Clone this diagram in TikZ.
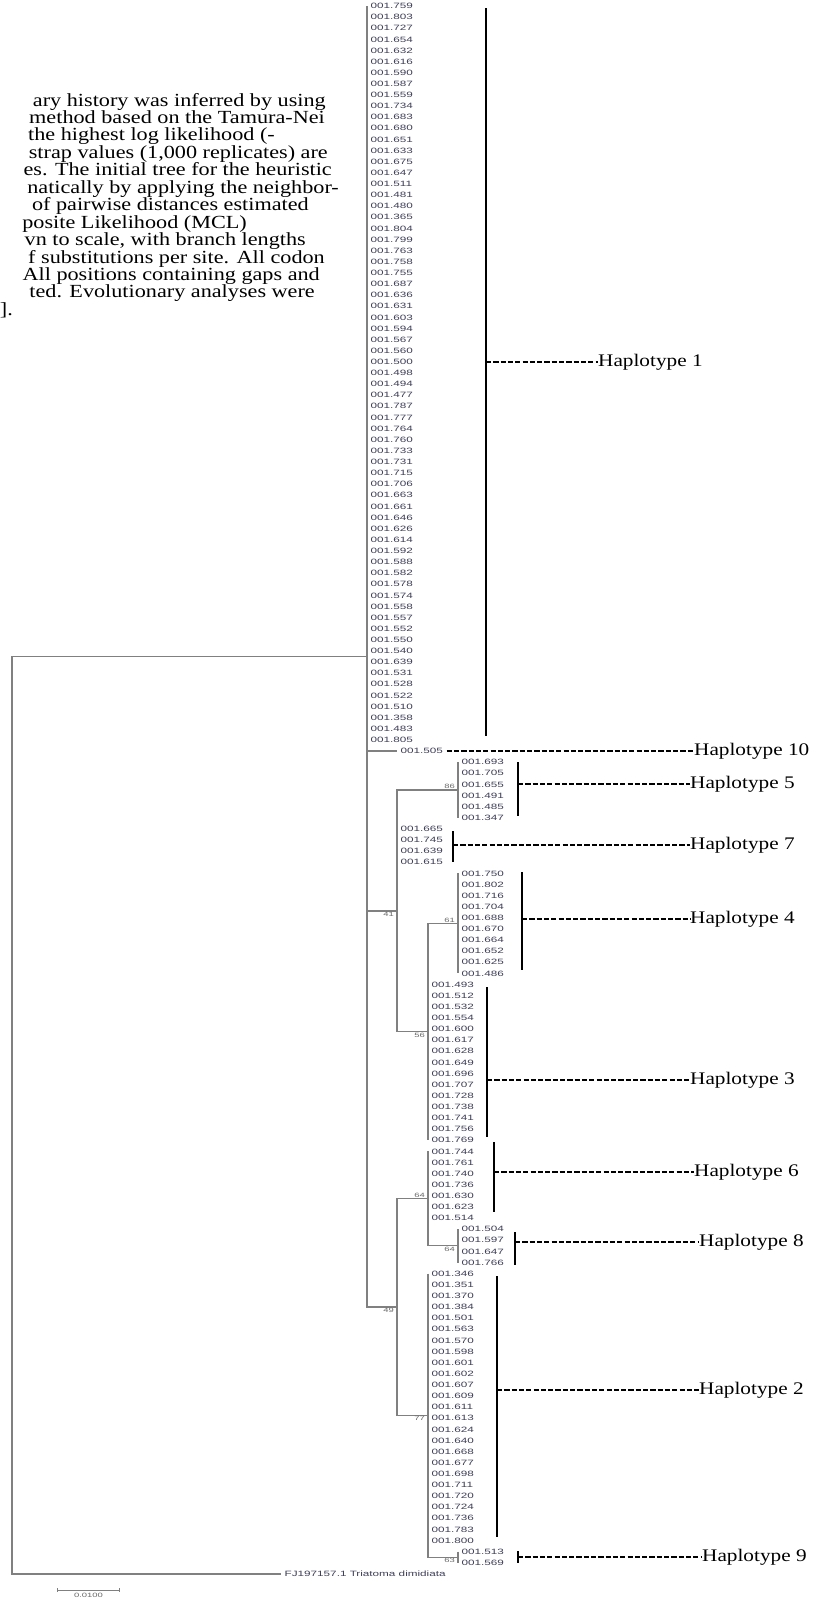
\documentclass[tikz,border=0pt]{standalone}
\usepackage{fontspec}
\setmainfont{Liberation Serif}
\newfontfamily\capfont[FakeStretch=1.2]{Liberation Serif}
\newfontfamily\leaffont[FakeStretch=1.52]{Liberation Sans}
\usetikzlibrary{arrows.meta}
\definecolor{treegray}{RGB}{128,128,128}
\definecolor{leafink}{RGB}{62,62,88}
\definecolor{bootgray}{RGB}{105,105,105}

\begin{document}
\begin{tikzpicture}[x=1pt, y=-1pt, branch/.style={draw=treegray, line width=1.2pt}, leaf/.style={anchor=west, inner xsep=3.5pt, inner ysep=0pt, text=leafink, font=\leaffont\fontsize{7.7}{8}\selectfont}, boot/.style={inner xsep=3pt, inner ysep=1pt, text=bootgray, font=\leaffont\fontsize{6.2}{7}\selectfont}, hap/.style={anchor=west, inner sep=0pt, font=\capfont\fontsize{17.7}{19}\selectfont}, captext/.style={anchor=base east, inner sep=0pt, font=\capfont\fontsize{18.5}{20}\selectfont}, hapbar/.style={line width=1.4pt}, guide/.style={line width=1.2pt, dash pattern=on 5.2pt off 2.1pt}]
\useasboundingbox (0,0) rectangle (812,1599);
% caption, cut off at the left edge
\node[captext] (cap1) at (326,106) {ary history was inferred by using};
\node[captext] (cap2) at (325,123.45) {method based on the Tamura-Nei};
\node[captext] (cap3) at (275,140.9) {the highest log likelihood (-};
\node[captext] (cap4) at (328,158.35) {strap values (1,000 replicates) are};
\node[captext] (cap5) at (332,175.8) {es. The initial tree for the heuristic};
\node[captext] (cap6) at (339,193.25) {natically by applying the neighbor-};
\node[captext] (cap7) at (309,210.7) {of pairwise distances estimated};
\node[captext] (cap8) at (247,228.15) {posite Likelihood (MCL)};
\node[captext] (cap9) at (306,245.6) {vn to scale, with branch lengths};
\node[captext] (cap10) at (325,263.05) {f substitutions per site. All codon};
\node[captext] (cap11) at (320,280.5) {All positions containing gaps and};
\node[captext] (cap12) at (315,297.95) {ted. Evolutionary analyses were};
\node[captext] (cap13) at (13,315.4) {].};
% leaves
\foreach \v [count=\k from 0] in {759,803,727,654,632,616,590,587,559,734,683,680,651,633,675,647,511,481,480,365,804,799,763,758,755,687,636,631,603,594,567,560,500,498,494,477,787,777,764,760,733,731,715,706,663,661,646,626,614,592,588,582,578,574,558,557,552,550,540,639,531,528,522,510,358,483,805} \node[leaf] (l\k) at (367,{6+11.12*\k}) {001.\v};
\node[leaf] (l67) at (397,{6+11.12*67}) {001.505};
\foreach \v [count=\k from 68] in {693,705,655,491,485,347} \node[leaf] (l\k) at (458,{6+11.12*\k}) {001.\v};
\foreach \v [count=\k from 74] in {665,745,639,615} \node[leaf] (l\k) at (397,{6+11.12*\k}) {001.\v};
\foreach \v [count=\k from 78] in {750,802,716,704,688,670,664,652,625,486} \node[leaf] (l\k) at (458,{6+11.12*\k}) {001.\v};
\foreach \v [count=\k from 88] in {493,512,532,554,600,617,628,649,696,707,728,738,741,756,769,744,761,740,736,630,623,514} \node[leaf] (l\k) at (428,{6+11.12*\k}) {001.\v};
\foreach \v [count=\k from 110] in {504,597,647,766} \node[leaf] (l\k) at (458,{6+11.12*\k}) {001.\v};
\foreach \v [count=\k from 114] in {346,351,370,384,501,563,570,598,601,602,607,609,611,613,624,640,668,677,698,711,720,724,736,783,800} \node[leaf] (l\k) at (428,{6+11.12*\k}) {001.\v};
\foreach \v [count=\k from 139] in {513,569} \node[leaf] (l\k) at (458,{6+11.12*\k}) {001.\v};
\node[leaf] (fj) at (281,{6+11.12*141}) {FJ197157.1 Triatoma dimidiata};
% internal nodes
\coordinate (root) at (12,1115.22);
\coordinate (ing) at (367,656.52);
\coordinate (b41) at (397,910.89);
\coordinate (b86) at (458,789.96);
\coordinate (b56) at (428,1031.82);
\coordinate (b61) at (458,923.4);
\coordinate (b49) at (397,1307.04);
\coordinate (b64u) at (428,1198.62);
\coordinate (b64l) at (458,1245.88);
\coordinate (b77) at (428,1415.46);
\coordinate (b63) at (458,1557.24);
% branches
\draw[branch] (ing) -| (root) |- (fj.west);
\draw[branch] (l0.west) |- (b49);
\draw[branch] (ing |- l67) -- (l67.west);
\draw[branch] (ing |- b41) -- (b41);
\draw[branch] (b86) -| (b41) |- (b56);
\draw[branch] (l68.west) -- (l73.west);
\draw[branch] (b61) -| (l102.west);
\draw[branch] (l78.west) -- (l87.west);
\draw[branch] (b64u) -| (b49) |- (b77);
\draw[branch] (l103.west) |- (b64l);
\draw[branch] (l110.west) -- (l113.west);
\draw[branch] (l114.west) |- (b63);
\draw[branch] (l139.west) -- (l140.west);
% bootstrap values
\node[boot, anchor=south east] (bs86) at (b86) {86};
\node[boot, anchor=north east] (bs41) at (b41) {41};
\node[boot, anchor=south east] (bs61) at (b61) {61};
\node[boot, anchor=north east] (bs56) at (b56) {56};
\node[boot, anchor=south east] (bs64u) at (b64u) {64};
\node[boot, anchor=north east] (bs64l) at (b64l) {64};
\node[boot, anchor=north east] (bs49) at (b49) {49};
\node[boot, anchor=north east] (bs77) at (b77) {77};
\node[boot, anchor=north east] (bs63) at (b63) {63};
% scale bar
\coordinate (sb0) at (57,1590);
\coordinate (sb1) at (120,1590);
\draw[treegray, line width=1pt, {Bar[width=4pt]}-{Bar[width=4pt]}] (sb0) -- (sb1);
\node[boot, anchor=north] (sbl) at (88.5,1592) {0.0100};
% haplotype groups
\foreach \n/\x/\t/\b/\m/\lx in {1/486/8/736/362/598, 5/518/762/816/784/690, 7/453/831/862/845/690, 4/522/872/970/919/690, 3/487/987/1137/1080/690, 6/494/1142/1212/1172/694, 8/515/1232/1265/1242/699, 2/497/1276/1537/1390/699, 9/518/1551/1563/1557/702} {
  \coordinate (h\n t) at (\x,\t); \coordinate (h\n b) at (\x,\b); \coordinate (h\n) at (\x,\m);
  \node[hap] (hap\n) at (\lx,\m) {Haplotype \n};
  \draw[hapbar] (h\n t) -- (h\n b); \draw[guide] (h\n) -- (hap\n.west);
}
\node[hap] (hap10) at (694,{6+11.12*67}) {Haplotype 10};
\draw[guide] (l67.east) -- (hap10.west);
\end{tikzpicture}
\end{document}
